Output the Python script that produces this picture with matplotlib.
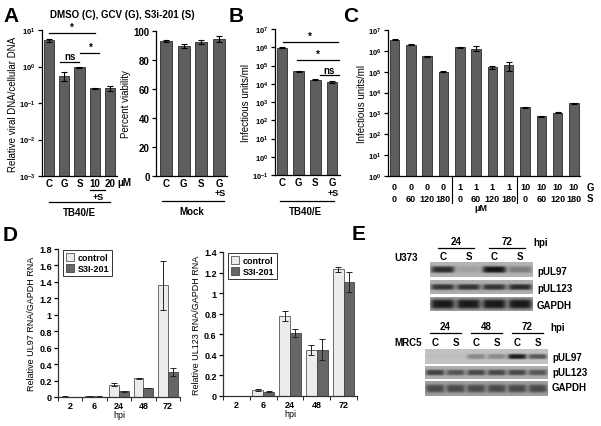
import numpy as np
import matplotlib
matplotlib.use('Agg')
import matplotlib.pyplot as plt
from matplotlib import transforms

plt.rcParams['font.family'] = ['Liberation Sans', 'DejaVu Sans']
plt.rcParams['font.weight'] = 'bold'
plt.rcParams['mathtext.default'] = 'regular'
plt.rcParams['axes.linewidth'] = 0.9
plt.rcParams['xtick.major.width'] = 0.9
plt.rcParams['ytick.major.width'] = 0.9

W, H = 601, 427
fig = plt.figure(figsize=(W / 100, H / 100), dpi=100)

# ---------------- data ----------------
a_cats = ['C', 'G', 'S', '10', '20']
a_dna = [5.2, 0.55, 0.95, 0.25, 0.25]
a_dna_lo = [0.5, 0.15, 0.03, 0.01, 0.03]
a_dna_hi = [0.5, 0.17, 0.03, 0.01, 0.05]

via_cats = ['C', 'G', 'S', 'G']
via_vals = [93, 89.5, 92.5, 94.5]
via_err = [0.8, 1.5, 1.5, 2.0]

b_cats = ['C', 'G', 'S', 'G']
b_vals = [9.5e5, 4.7e4, 1.7e4, 1.2e4]
b_err = [5e4, 2e3, 1e3, 1.5e3]

c_g = ['0', '0', '0', '0', '1', '1', '1', '1', '10', '10', '10', '10']
c_s = ['0', '60', '120', '180', '0', '60', '120', '180', '0', '60', '120', '180']
c_vals = [3.5e6, 2.0e6, 5.5e5, 1.0e5, 1.5e6, 1.2e6, 1.6e5, 2.0e5, 2.0e3, 7.5e2, 1.1e3, 3.0e3]
c_lo = [2e5, 1e5, 3e4, 5e3, 8e4, 2.5e5, 2e4, 9e4, 1e2, 4e1, 6e1, 2e2]
c_hi = [2e5, 1e5, 3e4, 5e3, 8e4, 5e5, 2e4, 1e5, 1e2, 4e1, 6e1, 2e2]

hpi = ['2', '6', '24', '48', '72']
ul97_ctrl = [0.005, 0.01, 0.15, 0.227, 1.36]
ul97_ctrl_err = [0.002, 0.002, 0.02, 0.008, 0.30]
ul97_s3i = [0.002, 0.006, 0.07, 0.11, 0.30]
ul97_s3i_err = [0.001, 0.001, 0.005, 0.005, 0.05]
ul123_ctrl = [0.002, 0.06, 0.78, 0.45, 1.23]
ul123_ctrl_err = [0.0, 0.01, 0.05, 0.05, 0.02]
ul123_s3i = [0.001, 0.04, 0.61, 0.45, 1.11]
ul123_s3i_err = [0.0, 0.005, 0.04, 0.10, 0.10]

u373_lanes = ['C', 'S', 'C', 'S']
u373_hpi = ['24', '72']
u373_pul97 = [0.85, 0.12, 1.0, 0.35]
u373_pul123 = [0.85, 0.85, 0.85, 0.9]
u373_gapdh = [1.0, 1.0, 1.0, 1.0]
mrc5_lanes = ['C', 'S', 'C', 'S', 'C', 'S']
mrc5_hpi = ['24', '48', '72']
mrc5_pul97 = [0.03, 0.03, 0.35, 0.35, 1.0, 0.65]
mrc5_pul123 = [0.8, 0.65, 0.75, 0.75, 0.75, 0.65]
mrc5_gapdh = [0.7, 0.7, 0.7, 0.7, 0.7, 0.7]

BAR = '#5e5e5e'
EDGE = '#2a2a2a'
LIGHT = '#ececec'


def add_ax(x0, y0, x1, y1):
    return fig.add_axes([x0 / W, 1 - y1 / H, (x1 - x0) / W, (y1 - y0) / H])


def fy(y):
    return 1 - y / H


def ftext(x, y, s, size=7, ha='center', **kw):
    fig.text(x / W, fy(y), s, fontsize=size, ha=ha, va='center', fontweight='bold', **kw)


def style(ax):
    for s in ('top', 'right'):
        ax.spines[s].set_visible(False)
    ax.tick_params(axis='y', length=3, pad=1.5, labelsize=5.5)
    ax.tick_params(axis='x', length=0, pad=1.5, labelsize=7)


def dtext(ax, x, y, s, size=7, ha='center'):
    tr = transforms.blended_transform_factory(ax.transData, fig.transFigure)
    ax.text(x, fy(y), s, transform=tr, fontsize=size, ha=ha, va='center',
            fontweight='bold', clip_on=False)


def dline(ax, x0, x1, y, lw=0.9):
    tr = transforms.blended_transform_factory(ax.transData, fig.transFigure)
    ax.plot([x0, x1], [fy(y), fy(y)], transform=tr, color='black', lw=lw, clip_on=False)


EK = dict(ecolor='black', capsize=2, elinewidth=0.8, capthick=0.8)

# ---------------- Panel A left ----------------
ax = add_ax(42, 31, 117, 177)
x = np.arange(len(a_cats))
ax.bar(x, a_dna, width=0.66, color=BAR, edgecolor=EDGE, lw=0.6,
       yerr=[a_dna_lo, a_dna_hi], error_kw=EK)
ax.set_yscale('log')
ax.set_ylim(1e-3, 1e1)
ax.set_xlim(-0.46, 4.46)
ax.minorticks_off()
ax.set_yticks([1e-3, 1e-2, 1e-1, 1e0, 1e1])
ax.set_xticks(x)
ax.set_xticklabels(a_cats)
style(ax)
ax.set_ylabel('Relative viral DNA/cellular DNA', fontsize=7, labelpad=1)
ax.plot([0, 3], [8.5, 8.5], color='black', lw=0.9, clip_on=False)
ax.text(1.5, 9.0, '*', ha='center', va='bottom', fontsize=7)
ax.plot([0.75, 1.95], [1.35, 1.35], color='black', lw=0.9)
ax.text(1.35, 1.45, 'ns', ha='center', va='bottom', fontsize=7)
ax.plot([2.05, 3.3], [2.3, 2.3], color='black', lw=0.9)
ax.text(2.75, 2.45, '*', ha='center', va='bottom', fontsize=7)
dtext(ax, 4.5, 183, 'μM', ha='left')
dline(ax, 2.7, 3.7, 191)
dtext(ax, 3.2, 197, '+S', size=6.5)
dline(ax, 0.0, 4.0, 203)
dtext(ax, 2.0, 213, 'TB40/E')

ftext(122, 15, 'DMSO (C), GCV (G), S3i-201 (S)', size=7)
ftext(3, 16, 'A', size=15, ha='left')

# ---------------- Panel A right (viability) ----------------
ax = add_ax(156, 32, 227, 177)
x = np.arange(len(via_cats))
ax.bar(x, via_vals, width=0.68, color=BAR, edgecolor=EDGE, lw=0.6,
       yerr=via_err, error_kw=EK)
ax.set_ylim(0, 100)
ax.set_xlim(-0.56, 3.45)
ax.set_yticks([0, 20, 40, 60, 80, 100])
ax.set_xticks(x)
ax.set_xticklabels(via_cats)
style(ax)
ax.tick_params(axis='y', labelsize=7)
ax.set_ylabel('Percent viability', fontsize=7, labelpad=2)
dtext(ax, 3.05, 193, '+S', size=6.5)
dline(ax, -0.2, 3.3, 202)
dtext(ax, 1.45, 212, 'Mock')

# ---------------- Panel B ----------------
ax = add_ax(275, 30, 340, 176)
x = np.arange(len(b_cats))
ax.bar(x, b_vals, width=0.63, color=BAR, edgecolor=EDGE, lw=0.6,
       yerr=b_err, error_kw=EK)
ax.set_yscale('log')
ax.set_ylim(1e-1, 1e7)
ax.set_xlim(-0.42, 3.48)
ax.minorticks_off()
ax.set_yticks([10.0 ** k for k in range(-1, 8)])
ax.set_xticks(x)
ax.set_xticklabels(b_cats)
style(ax)
ax.set_ylabel('Infectious units/ml', fontsize=7, labelpad=1)
ax.plot([0.05, 3.35], [2.0e6, 2.0e6], color='black', lw=0.9, clip_on=False)
ax.text(1.7, 2.2e6, '*', ha='center', va='bottom', fontsize=7)
ax.plot([0.9, 3.4], [2.0e5, 2.0e5], color='black', lw=0.9, clip_on=False)
ax.text(2.15, 2.2e5, '*', ha='center', va='bottom', fontsize=7)
ax.plot([2.3, 3.4], [2.9e4, 2.9e4], color='black', lw=0.9, clip_on=False)
ax.text(2.85, 3.2e4, 'ns', ha='center', va='bottom', fontsize=7)
dtext(ax, 3.05, 193, '+S', size=6.5)
dline(ax, -0.1, 3.1, 202)
dtext(ax, 1.4, 212, 'TB40/E')
ftext(229, 16, 'B', size=15, ha='left')

# ---------------- Panel C ----------------
ax = add_ax(388, 31, 580, 177)
x = np.arange(len(c_vals))
ax.bar(x, c_vals, width=0.58, color=BAR, edgecolor=EDGE, lw=0.6,
       yerr=[c_lo, c_hi], error_kw=EK)
ax.set_yscale('log')
ax.set_ylim(1, 1e7)
ax.set_xlim(-0.4, 11.37)
ax.minorticks_off()
ax.set_yticks([10.0 ** k for k in range(0, 8)])
ax.set_xticks([])
style(ax)
ax.set_ylabel('Infectious units/ml', fontsize=7, labelpad=1)
for i in range(len(c_vals)):
    dtext(ax, i, 188, c_g[i], size=6.5)
    dtext(ax, i, 199, c_s[i], size=6.5)
dtext(ax, 11.75, 188, 'G', size=7, ha='left')
dtext(ax, 11.75, 199, 'S', size=7, ha='left')
dtext(ax, 5.3, 209, 'μM', size=6.5)
tr = transforms.blended_transform_factory(ax.transData, fig.transFigure)
for xs in (3.5, 7.5):
    ax.plot([xs, xs], [fy(177), fy(204)], transform=tr, color='black', lw=0.8, clip_on=False)
ftext(343, 16, 'C', size=15, ha='left')


# ---------------- Panel D ----------------
def grouped(ax, ctrl, ce, s3i, se, ymax, yticks, ylabel):
    x = np.arange(len(hpi))
    w = 0.4
    ek = dict(ecolor='#222222', capsize=2.5, elinewidth=0.7, capthick=0.7)
    ax.bar(x - w / 2, ctrl, width=w, color=LIGHT, edgecolor='#555555', lw=0.6,
           yerr=ce, error_kw=ek, label='control')
    ax.bar(x + w / 2, s3i, width=w, color='#666666', edgecolor='#444444', lw=0.6,
           yerr=se, error_kw=ek, label='S3I-201')
    ax.set_xlim(-0.5, len(hpi) - 0.5)
    ax.set_ylim(0, ymax)
    ax.set_yticks(yticks)
    ax.set_yticklabels(['0' if t == 0 else ('%g' % t) for t in yticks])
    ax.set_xticks(x)
    ax.set_xticklabels(hpi)
    ax.set_xticks(np.arange(len(hpi) + 1) - 0.5, minor=True)
    for s in ('top', 'right'):
        ax.spines[s].set_visible(False)
    ax.spines['left'].set_color('#333333')
    ax.spines['bottom'].set_color('#333333')
    ax.tick_params(axis='y', length=3, pad=1.5, labelsize=6.5)
    ax.tick_params(axis='x', which='major', length=0, pad=3, labelsize=6.5)
    ax.tick_params(axis='x', which='minor', length=3)
    ax.set_xlabel('hpi', fontsize=6.5, labelpad=0)
    ax.set_ylabel(ylabel, fontsize=6.5, labelpad=2)
    leg = ax.legend(loc='upper left', bbox_to_anchor=(0.04, 0.99), fontsize=6.5,
                    frameon=True, fancybox=False, edgecolor='#333333', framealpha=1,
                    handlelength=0.9, handleheight=0.9, handletextpad=0.4,
                    borderpad=0.3, labelspacing=0.2, borderaxespad=0)
    leg.get_frame().set_linewidth(0.7)


ax = add_ax(58, 250, 180, 398)
grouped(ax, ul97_ctrl, ul97_ctrl_err, ul97_s3i, ul97_s3i_err, 1.8,
        [0, 0.2, 0.4, 0.6, 0.8, 1.0, 1.2, 1.4, 1.6, 1.8], 'Relative UL97 RNA/GAPDH RNA')
ftext(3, 236, 'D', size=15, ha='left')

ax = add_ax(223, 253, 357, 397)
grouped(ax, ul123_ctrl, ul123_ctrl_err, ul123_s3i, ul123_s3i_err, 1.4,
        [0, 0.2, 0.4, 0.6, 0.8, 1.0, 1.2, 1.4], 'Relative UL123 RNA/GAPDH RNA')


# ---------------- Panel E (western blots) ----------------
def blot(x0, y0, x1, y1, intens, thick=0.38, bg=0.72, dark=0.08):
    bx = add_ax(x0, y0, x1, y1)
    nl = len(intens)
    ny, per = 40, 40
    nx = nl * per
    yy = np.linspace(-1, 1, ny)[:, None]
    xx = (np.arange(nx) + 0.5) / per
    img = np.full((ny, nx), bg)
    for i, v in enumerate(intens):
        hx = np.exp(-((xx - (i + 0.5)) / 0.46) ** 6)
        hy = np.exp(-(yy / thick) ** 4)
        img = img - v * (bg - dark) * hx[None, :] * hy
    bx.imshow(img, cmap='gray', vmin=0, vmax=1, aspect='auto',
              extent=[0, nl, 1, 0], interpolation='bilinear')
    bx.set_xlim(0, nl)
    bx.axis('off')
    return bx


ftext(352, 234, 'E', size=15, ha='left')
# U373
b1 = blot(430, 263, 533, 278, u373_pul97, thick=0.45, bg=0.70)
blot(430, 281, 533, 295, u373_pul123, thick=0.42, bg=0.68, dark=0.12)
blot(430, 298, 533, 312, u373_gapdh, thick=0.7, bg=0.62, dark=0.1)
for i, lab in enumerate(u373_lanes):
    dtext(b1, i + 0.5, 257, lab)
for j, lab in enumerate(u373_hpi):
    dtext(b1, 2 * j + 1, 242, lab)
    dline(b1, 2 * j + 0.3, 2 * j + 1.7, 249)
ftext(533, 243, 'hpi', ha='left')
ftext(394, 258, 'U373', ha='left')
ftext(537, 272, 'pUL97', ha='left')
ftext(537, 289, 'pUL123', ha='left')
ftext(537, 306, 'GAPDH', ha='left')

# MRC5
b2 = blot(425, 350, 548, 365, mrc5_pul97, thick=0.35, bg=0.76, dark=0.12)
blot(425, 367, 548, 380, mrc5_pul123, thick=0.45, bg=0.68, dark=0.15)
blot(425, 382, 548, 397, mrc5_gapdh, thick=0.55, bg=0.62, dark=0.15)
for i, lab in enumerate(mrc5_lanes):
    dtext(b2, i + 0.5, 343, lab)
for j, lab in enumerate(mrc5_hpi):
    dtext(b2, 2 * j + 1, 327, lab)
    dline(b2, 2 * j + 0.25, 2 * j + 1.75, 334)
ftext(550, 328, 'hpi', ha='left')
ftext(394, 343, 'MRC5', ha='left')
ftext(552, 358, 'pUL97', ha='left')
ftext(552, 373, 'pUL123', ha='left')
ftext(552, 388, 'GAPDH', ha='left')

fig.savefig('out.png', dpi=100)
